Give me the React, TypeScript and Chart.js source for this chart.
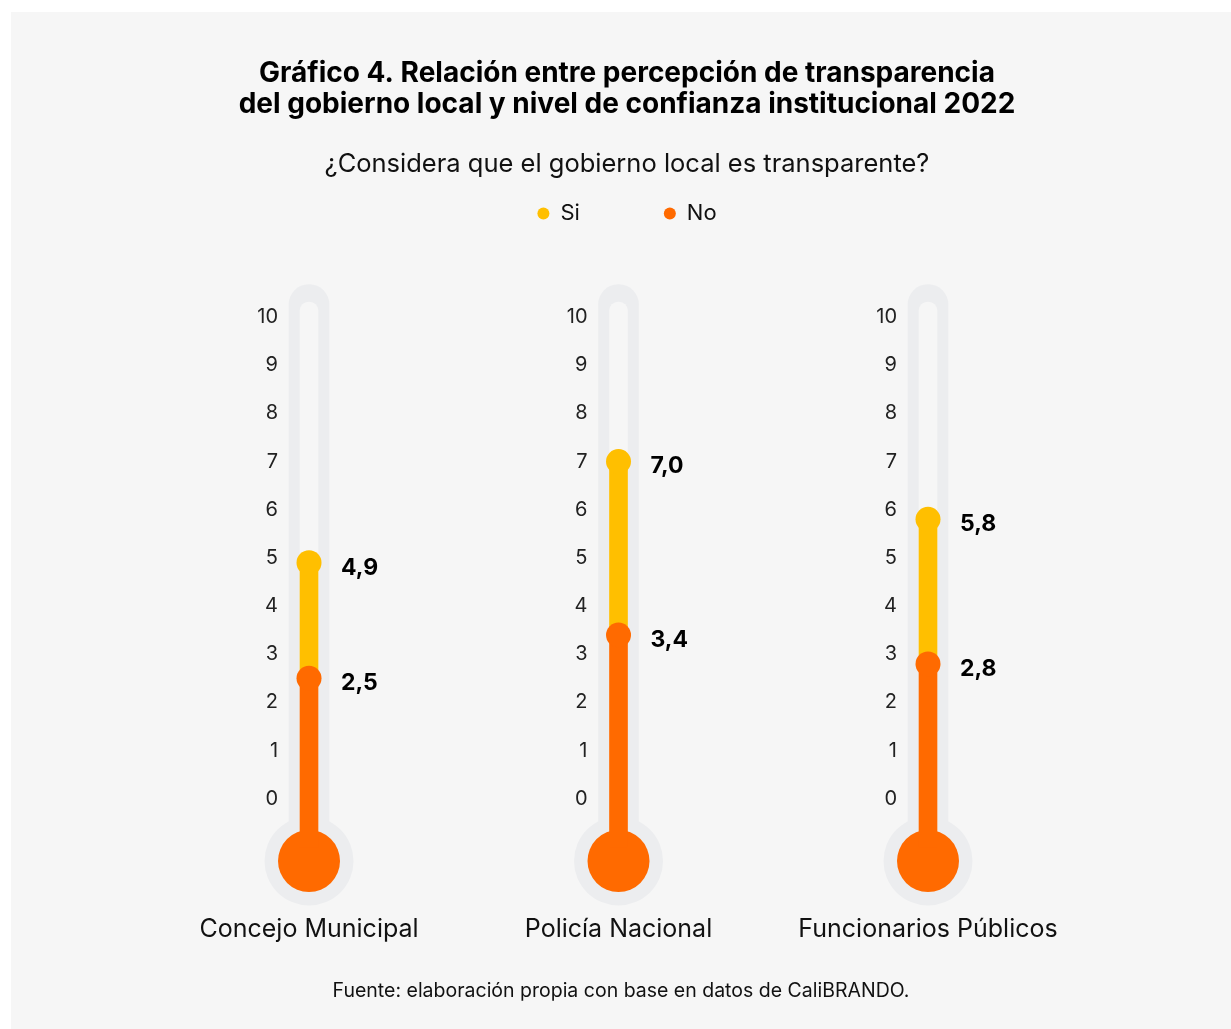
import React, { useEffect, useRef } from "react";
import { Chart, registerables } from "chart.js";

Chart.register(...registerables);

// ---------- data ----------
const CATEGORIES = ["Concejo Municipal", "Policía Nacional", "Funcionarios Públicos"];
const SI_VALUES = [4.9, 7.0, 5.8];
const NO_VALUES = [2.5, 3.4, 2.8];
const Y_TICKS = [0, 1, 2, 3, 4, 5, 6, 7, 8, 9, 10];
const SERIES_LABELS = ["Si", "No"];
const TITLE = [
  "Gráfico 4. Relación entre percepción de transparencia",
  "del gobierno local y nivel de confianza institucional 2022",
];
const SUBTITLE = "¿Considera que el gobierno local es transparente?";
const SOURCE = "Fuente: elaboración propia con base en datos de CaliBRANDO.";

// ---------- style ----------
const FONT = "Inter, 'Open Sans', sans-serif";
const BG = "#f6f6f6";
const TUBE = "#ecedef";
const YELLOW = "#ffbf00";
const ORANGE = "#ff6a00";
const TEXT = "#111111";

// thermometer geometry (in y-axis units)
const TUBE_TOP = 10.67;
const TRACK_TOP = 10.31;
const TUBE_BASE = -1.0;
const BULB_Y = -1.29;

// x-axis window (category index units)
const X_MIN = -0.8191;
const X_MAX = 2.8352;

const fmt = (v: number) => v.toFixed(1).replace(".", ",");

const thermoLabels = {
  id: "thermoLabels",
  afterDatasetsDraw(chart: any) {
    const { ctx } = chart;
    const xs = chart.scales.x;
    const ys = chart.scales.y;
    ctx.save();
    // repeated y tick labels beside each thermometer
    ctx.font = `400 20px ${FONT}`;
    ctx.fillStyle = "#222222";
    ctx.textAlign = "right";
    ctx.textBaseline = "middle";
    CATEGORIES.forEach((_, i) => {
      const px = xs.getPixelForValue(i);
      Y_TICKS.forEach((t) => {
        ctx.fillText(String(t), px - 31, ys.getPixelForValue(t));
      });
    });
    // value labels
    ctx.font = `700 23px ${FONT}`;
    ctx.fillStyle = "#000000";
    ctx.textAlign = "left";
    CATEGORIES.forEach((_, i) => {
      const px = xs.getPixelForValue(i);
      ctx.fillText(fmt(SI_VALUES[i]), px + 32, ys.getPixelForValue(SI_VALUES[i]) + 5);
      ctx.fillText(fmt(NO_VALUES[i]), px + 32, ys.getPixelForValue(NO_VALUES[i]) + 5);
    });
    ctx.restore();
  },
};

function pointSet(label: string, ys: number[], radius: number, color: string, order: number) {
  return {
    type: "scatter" as const,
    label,
    data: ys.map((y, i) => ({ x: i, y })),
    pointRadius: radius,
    pointHoverRadius: radius,
    pointStyle: "circle",
    backgroundColor: color,
    pointBackgroundColor: color,
    borderColor: color,
    pointBorderWidth: 0,
    borderWidth: 0,
    clip: false as any,
    order,
  };
}

function barSet(
  label: string,
  bases: number[],
  tops: number[],
  thickness: number,
  radius: number,
  color: string,
  order: number
) {
  return {
    type: "bar" as const,
    label,
    data: tops.map((t, i) => ({ x: i, y: [bases[i], t] })),
    barThickness: thickness,
    grouped: false,
    backgroundColor: color,
    borderWidth: 0,
    borderSkipped: false,
    borderRadius: { topLeft: radius, topRight: radius, bottomLeft: 0, bottomRight: 0 },
    clip: false as any,
    order,
  };
}

export default function App() {
  const ref = useRef<HTMLCanvasElement>(null);

  useEffect(() => {
    const canvas = ref.current;
    if (!canvas) return;
    const base = CATEGORIES.map(() => TUBE_BASE);
    const chart = new Chart(canvas, {
      type: "bar",
      data: {
        datasets: [
          pointSet("bulbOuter", CATEGORIES.map(() => BULB_Y), 44.5, TUBE, 10),
          barSet("tube", base, CATEGORIES.map(() => TUBE_TOP), 40, 20, TUBE, 9),
          barSet("track", base, CATEGORIES.map(() => TRACK_TOP), 18, 9, BG, 8),
          pointSet("bulbInner", CATEGORIES.map(() => BULB_Y), 31, ORANGE, 7),
          barSet("siBar", NO_VALUES, SI_VALUES, 18, 0, YELLOW, 6),
          barSet("noBar", base, NO_VALUES, 18, 0, ORANGE, 5),
          pointSet("Si", SI_VALUES, 12.5, YELLOW, 4),
          pointSet("No", NO_VALUES, 12.5, ORANGE, 3),
        ] as any,
      },
      options: {
        animation: false,
        responsive: false,
        maintainAspectRatio: false,
        events: [],
        layout: { padding: { left: 12, right: 0, top: 0, bottom: 0 } },
        scales: {
          x: {
            type: "linear",
            offset: false,
            min: X_MIN,
            max: X_MAX,
            afterBuildTicks: (scale: any) => {
              scale.ticks = CATEGORIES.map((_, i) => ({ value: i }));
            },
            ticks: {
              autoSkip: false,
              maxRotation: 0,
              padding: 8,
              color: TEXT,
              font: { family: FONT, size: 25, weight: "400", lineHeight: 1.2 },
              callback: (v: any) => CATEGORIES[Number(v)] ?? "",
            },
            grid: { display: false, drawTicks: false, offset: false },
            border: { display: false },
            title: {
              display: true,
              text: SOURCE,
              color: TEXT,
              font: { family: FONT, size: 19.5, weight: "400", lineHeight: 1.2 },
              padding: { top: 27.0, bottom: 26.3 },
            },
          },
          y: {
            type: "linear",
            display: false,
            min: -2.23,
            max: 11.71,
          },
        },
        plugins: {
          title: {
            display: true,
            text: TITLE,
            color: "#000000",
            font: { family: FONT, size: 28, weight: "bold", lineHeight: "31px" },
            padding: { top: 46.5, bottom: -2 },
          },
          subtitle: {
            display: true,
            text: SUBTITLE,
            color: TEXT,
            font: { family: FONT, size: 25.5, weight: "400", lineHeight: "30px" },
            padding: { top: 30.5, bottom: -60.5 },
          },
          legend: {
            display: true,
            position: "top",
            labels: {
              usePointStyle: true,
              pointStyle: "circle",
              boxHeight: 8.5,
              pointStyleWidth: 12,
              padding: 84,
              color: TEXT,
              font: { family: FONT, size: 22, weight: "400" },
              filter: (item: any) => SERIES_LABELS.includes(item.text),
              sort: (a: any, b: any) => SERIES_LABELS.indexOf(a.text) - SERIES_LABELS.indexOf(b.text),
            },
          },
          tooltip: { enabled: false },
        },
      } as any,
      plugins: [thermoLabels],
    });
    return () => chart.destroy();
  }, []);

  return (
    <div
      style={{
        position: "absolute",
        left: 0,
        top: 0,
        width: 1231,
        height: 1029,
        background: "#ffffff",
        overflow: "hidden",
      }}
    >
      <div
        style={{
          position: "absolute",
          left: 11,
          top: 12,
          width: 1220,
          height: 1017,
          background: BG,
        }}
      >
        <canvas ref={ref} width={1220} height={1017} style={{ display: "block" }} />
      </div>
    </div>
  );
}
